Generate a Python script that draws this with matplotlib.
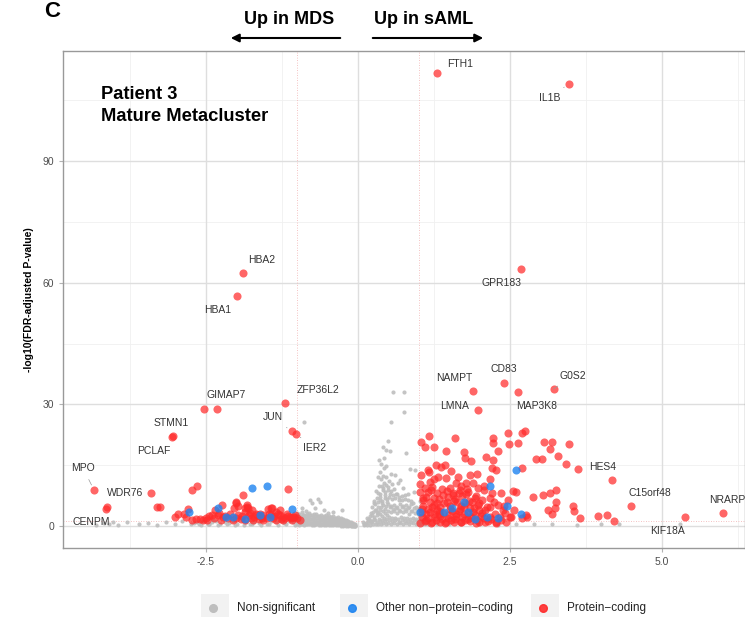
import numpy as np
import matplotlib.pyplot as plt
from matplotlib.patches import Rectangle, FancyArrowPatch
from matplotlib.lines import Line2D

plt.rcParams['font.family'] = ['Liberation Sans', 'DejaVu Sans']

# ---- labelled genes ----
lab_genes = ['FTH1', 'IL1B', 'HBA2', 'HBA1', 'GPR183', 'NAMPT', 'CD83', 'G0S2', 'MAP3K8', 'LMNA',
             'GIMAP7', 'ZFP36L2', 'JUN', 'IER2', 'STMN1', 'PCLAF', 'MPO', 'WDR76', 'CENPM',
             'HES4', 'C15orf48', 'NRARP', 'KIF18A']
lab_x = [1.30, 3.47, -1.89, -1.99, 2.68, 1.89, 2.40, 3.22, 2.63, 1.97,
         -2.32, -1.20, -1.09, -1.02, -3.04, -3.05, -4.34, -3.40, -4.03,
         4.19, 4.49, 6.00, 5.39]
lab_y = [111.7, 109.0, 62.4, 56.7, 63.4, 33.3, 35.3, 33.8, 33.0, 28.6,
         28.8, 30.3, 23.4, 22.7, 22.2, 22.0, 8.9, 8.1, 1.0,
         11.3, 4.9, 3.2, 2.2]
lab_type = ['pc'] * 18 + ['ns'] + ['pc'] * 4

# ---- protein-coding (red) ----
red_x = [-2.53, -4.13, -4.14, -3.31, -3.26, -2.73, -2.65, -2.80, -2.96, -3.01, -2.86, -2.82, -2.66, -2.60,
         -2.49, -2.40, -2.35, -2.23, -2.01, -1.89, -1.15, -1.97, -2.04, -1.43, -1.28, -2.30, -2.21, -2.13,
         -1.97, -1.86, -1.82, -1.74, -1.76, -1.68, -1.61, -1.48, -1.43, -1.35, -1.28, -1.20, -1.15, -1.10,
         -1.05, -1.00, -1.86, -1.73, -1.56, -1.35, -1.23, -2.48, -2.25, -2.05, -1.92, -1.62, -1.50, -0.95,
         -1.08, -1.40, -2.72, -2.55, -1.83, -1.81, -1.86, -1.78, -1.66, -1.61, -1.56, -1.41, -1.32, -1.23,
         -1.12, -1.07, -2.00,
         -2.44, -2.36, -2.28, -2.18, -2.10, -2.00, -1.90, -1.79, -1.70, -1.58, -1.46, -1.38, -1.26, -1.17, -1.04,
         1.04, 1.17, 1.10, 1.25, 1.60, 1.45, 1.74, 1.76, 1.86, 2.11, 2.22, 2.22, 2.30, 2.22, 2.47, 2.70,
         2.75, 2.48, 2.63, 3.06, 3.19, 3.47, 3.17, 3.30, 2.93, 3.03, 3.42, 3.63, 2.70, 1.28, 1.37, 1.43,
         1.53, 1.15, 1.17, 2.20, 2.27, 1.84, 2.17, 1.02, 1.18, 1.32, 1.45, 1.61, 1.78, 1.89, 1.97, 2.07,
         2.20, 2.35, 2.55, 2.60, 2.47, 2.57, 2.39, 2.76, 2.52, 2.70, 2.89, 3.04, 3.17, 3.26, 3.26, 3.24,
         3.13, 3.19, 3.54, 3.55, 3.65, 3.95, 4.10, 4.21,
         1.02, 1.15, 1.30, 1.40, 1.56, 1.66, 1.78, 1.92, 2.05, 2.24, 2.40, 1.07, 1.18, 1.31, 1.46, 1.63,
         1.76, 1.88, 1.97, 2.12, 1.05, 1.18, 1.30, 1.40, 1.55, 1.68, 1.81, 1.92, 2.04, 2.17, 2.34, 2.50,
         1.05, 1.15, 1.27, 1.38, 1.48, 1.60, 1.71, 1.81, 1.96, 2.07, 2.78, 1.10, 1.22, 1.35, 1.45, 1.58,
         1.70, 1.85, 2.00, 2.15, 2.28, 1.12, 1.25, 1.33, 1.50, 1.62, 1.75, 1.90, 2.25, 1.08, 1.22, 1.36,
         1.52, 1.70, 1.84, 2.00, 1.12, 1.25, 1.48, 1.60, 1.72, 1.10, 1.22, 1.38, 1.52, 1.68, 1.80, 1.25,
         1.65, 1.04, 1.96,
         1.03, 1.13, 1.21, 1.29, 1.36, 1.44, 1.53, 1.61, 1.69, 1.77, 1.86, 1.94, 2.02, 2.10, 2.19, 2.27,
         2.36, 2.44, 1.06, 1.16, 1.26, 1.34, 1.42, 1.51, 1.58, 1.66, 1.74, 1.83, 1.91, 2.00, 2.09, 2.18,
         2.30, 2.42, 1.08, 1.20, 1.34, 1.46, 1.57, 1.69, 1.82, 1.95, 2.08, 2.18]
red_y = [28.8, 4.7, 4.2, 4.7, 4.7, 8.9, 9.9, 4.2, 3.0, 2.2, 2.9, 2.2, 1.8, 1.8,
         2.1, 2.7, 3.9, 5.2, 5.9, 7.6, 9.1, 4.9, 4.4, 4.4, 3.9, 2.7, 2.2, 2.0,
         2.7, 4.4, 5.2, 3.9, 2.0, 3.0, 2.5, 4.2, 2.7, 3.4, 2.7, 2.0, 2.5, 2.0,
         2.2, 2.0, 1.5, 1.5, 1.5, 1.5, 1.5, 1.5, 1.5, 1.6, 1.8, 1.8, 2.0, 1.6,
         1.4, 2.0, 1.6, 1.5, 4.7, 4.4, 3.5, 3.2, 2.7, 3.0, 2.7, 4.4, 3.0, 2.2,
         2.2, 2.2, 5.7,
         2.6, 1.9, 3.2, 2.6, 3.0, 2.1, 2.5, 2.7, 2.2, 2.1, 2.9, 2.4, 1.8, 2.9, 2.7,
         20.8, 22.2, 19.5, 19.5, 21.7, 18.5, 18.2, 16.8, 16.0, 17.0, 21.7, 20.5, 18.5, 16.3, 22.9, 22.9,
         23.4, 20.2, 20.5, 20.7, 20.7, 20.2, 19.0, 17.3, 16.5, 16.5, 15.3, 14.1, 14.3, 15.0, 14.5, 15.0,
         13.6, 13.8, 13.3, 14.3, 13.8, 12.6, 11.6, 10.4, 10.8, 12.1, 11.8, 10.6, 10.6, 10.6, 9.4, 9.9,
         8.1, 8.1, 8.6, 8.4, 6.4, 3.9, 3.9, 2.7, 2.2, 2.0, 7.2, 7.6, 8.1, 8.9, 5.9, 4.4,
         3.9, 3.0, 4.9, 3.7, 2.0, 2.5, 2.7, 1.2,
         8.4, 8.4, 8.1, 7.6, 8.1, 8.1, 7.9, 6.9, 6.4, 5.9, 4.9, 6.4, 5.9, 5.7, 5.9, 5.9,
         5.7, 5.9, 5.2, 4.7, 4.2, 3.5, 3.9, 3.2, 3.7, 4.2, 3.2, 2.7, 3.2, 2.2, 2.2, 2.2,
         2.2, 2.0, 2.2, 1.7, 2.0, 1.7, 2.2, 1.7, 1.5, 2.0, 2.2, 1.2, 1.0, 1.1, 0.9, 1.1,
         1.0, 1.2, 1.0, 1.3, 1.1, 3.0, 2.9, 3.1, 2.8, 3.0, 2.9, 3.4, 3.0, 5.0, 4.8, 4.6,
         4.9, 5.0, 4.5, 4.0, 7.2, 7.0, 7.1, 6.8, 7.3, 9.3, 9.6, 9.2, 9.5, 9.0, 9.1, 11.5,
         12.0, 12.5, 12.9,
         0.8, 1.6, 0.7, 1.4, 2.5, 0.8, 1.5, 2.4, 0.9, 1.6, 2.3, 0.8, 2.6, 1.0, 1.8, 0.7,
         1.5, 0.9, 3.4, 4.1, 5.3, 3.8, 5.6, 4.2, 6.3, 3.6, 4.8, 6.1, 4.4, 5.8, 3.9, 4.6,
         5.3, 3.3, 6.9, 8.8, 6.6, 8.6, 7.6, 9.9, 8.4, 7.4, 8.9, 6.9]

# ---- other non-protein-coding (blue) ----
blue_x = [-2.78, -2.30, -2.17, -2.06, -1.74, -1.50, -1.09, -1.61, -1.45, -1.86,
          2.61, 2.17, 1.74, 1.55, 1.41, 1.82, 2.12, 2.31, 2.45, 2.68, 1.02, 1.92]
blue_y = [3.5, 4.4, 2.2, 2.2, 9.4, 9.9, 4.2, 2.7, 2.2, 1.7,
          13.8, 9.9, 5.9, 4.4, 3.5, 3.5, 2.2, 2.0, 4.9, 3.0, 3.5, 1.7]

# ---- non-significant (grey) ----
gray_left_x = [-4.30, -4.10, -3.95, -3.80, -3.60, -3.45, -3.30, -3.15, -3.00, -2.90, -2.75, -2.65,
               -2.55, -2.45, -2.38, -2.70, -2.62, -2.47, -2.40, -2.33, -2.26, -2.19, -2.12, -2.05,
               -1.98, -1.91, -1.84, -1.77, -1.70, -1.63, -1.56, -1.49, -1.42, -1.35, -1.28, -1.21,
               -1.14, -1.07, -2.58, -2.44, -2.30, -2.16, -2.02, -1.88, -1.74, -1.60, -1.46, -1.32,
               -1.18, -1.04]
gray_left_y = [0.3, 0.6, 0.2, 0.9, 0.4, 0.7, 0.3, 1.0, 0.5, 1.2, 0.4, 0.9,
               1.3, 0.6, 1.6, 0.8, 0.5, 0.6, 0.9, 1.3, 0.5, 1.0, 0.7, 1.2,
               0.6, 1.4, 0.9, 0.5, 1.1, 0.8, 1.5, 0.6, 1.2, 0.9, 1.6, 0.7,
               1.3, 1.0, 0.3, 0.4, 0.2, 0.4, 0.3, 0.3, 0.4, 0.2, 0.4, 0.3,
               0.4, 0.3]

gray_band_x = [-1.00, -0.96, -0.92, -0.88, -0.84, -0.80, -0.76, -0.72, -0.68, -0.64, -0.60, -0.56, -0.52,
               -0.48, -0.44, -0.40, -0.36, -0.32, -0.28, -0.24, -0.20, -0.16, -0.12, -0.08, -0.04] * 4
gray_band_y = [3.2, 2.9, 3.4, 2.8, 3.1, 3.3, 2.7, 3.0, 2.9, 2.6, 2.8, 2.5, 2.7, 2.4, 2.3, 2.5, 2.1, 2.2, 1.9, 1.7, 1.6, 1.2, 0.9, 0.6, 0.4,
               2.2, 2.0, 2.3, 1.9, 2.1, 2.2, 1.8, 2.0, 2.1, 1.9, 1.8, 1.7, 1.9, 1.6, 1.7, 1.5, 1.6, 1.4, 1.3, 1.2, 1.0, 0.8, 0.6, 0.4, 0.2,
               1.2, 1.0, 1.3, 0.9, 1.1, 1.2, 0.8, 1.0, 1.1, 0.9, 1.0, 0.8, 0.9, 0.7, 0.8, 0.7, 0.8, 0.6, 0.6, 0.5, 0.4, 0.3, 0.3, 0.2, 0.1,
               0.4, 0.3, 0.5, 0.3, 0.4, 0.4, 0.2, 0.3, 0.4, 0.3, 0.3, 0.2, 0.3, 0.2, 0.3, 0.2, 0.2, 0.2, 0.1, 0.1, 0.1, 0.1, 0.1, 0.05, 0.05]

gray_band2_x = [-0.98, -0.94, -0.90, -0.86, -0.82, -0.78, -0.74, -0.70, -0.66, -0.62, -0.58, -0.54,
                -0.50, -0.46, -0.42, -0.38, -0.34, -0.30, -0.26, -0.22, -0.18, -0.14, -0.10, -0.06] * 3
gray_band2_y = [2.7, 2.5, 2.8, 2.4, 2.6, 2.7, 2.3, 2.5, 2.4, 2.2, 2.3, 2.1, 2.3, 2.0, 2.0, 2.0, 1.8, 1.8, 1.6, 1.4, 1.3, 1.0, 0.8, 0.5,
                1.7, 1.5, 1.8, 1.4, 1.6, 1.7, 1.3, 1.5, 1.6, 1.4, 1.4, 1.2, 1.4, 1.1, 1.2, 1.1, 1.2, 1.0, 0.9, 0.8, 0.7, 0.5, 0.4, 0.3,
                0.8, 0.6, 0.9, 0.6, 0.7, 0.8, 0.5, 0.6, 0.7, 0.6, 0.6, 0.5, 0.6, 0.4, 0.5, 0.4, 0.5, 0.4, 0.3, 0.3, 0.2, 0.2, 0.1, 0.1]

gray_cloud_x = [0.10, 0.11, 0.09,
                0.15, 0.14, 0.16, 0.15,
                0.20, 0.21, 0.19, 0.20, 0.22,
                0.25, 0.24, 0.26, 0.25, 0.24, 0.26,
                0.30, 0.29, 0.31, 0.30, 0.28, 0.31, 0.30,
                0.34, 0.35, 0.33, 0.34, 0.36, 0.33, 0.35, 0.34,
                0.38, 0.39, 0.37, 0.38, 0.40, 0.37, 0.39, 0.38, 0.37, 0.38,
                0.42, 0.43, 0.41, 0.42, 0.44, 0.41, 0.43, 0.42, 0.43,
                0.46, 0.47, 0.45, 0.46, 0.48, 0.45, 0.47, 0.46, 0.47,
                0.50, 0.51, 0.49, 0.50, 0.52, 0.49, 0.51,
                0.55, 0.56, 0.54, 0.55, 0.57, 0.54, 0.56, 0.55,
                0.60, 0.61, 0.59, 0.60, 0.62, 0.59,
                0.65, 0.66, 0.64, 0.65, 0.67, 0.64, 0.66,
                0.70, 0.71, 0.69, 0.70, 0.72,
                0.75, 0.76, 0.74, 0.75, 0.77, 0.74,
                0.80, 0.81, 0.79, 0.80, 0.82,
                0.85, 0.86, 0.84, 0.85, 0.87,
                0.90, 0.91, 0.89, 0.90, 0.92,
                0.95, 0.96, 0.94, 0.95,
                1.00, 1.01, 0.99, 1.00, 1.02,
                1.05, 1.06, 1.04, 1.10, 1.11]
gray_cloud_y = [0.2, 0.6, 1.0,
                0.3, 0.8, 1.4, 2.0,
                0.3, 0.9, 1.6, 2.4, 3.2,
                0.4, 1.2, 2.2, 3.4, 4.6, 5.8,
                0.5, 1.5, 2.7, 4.0, 5.5, 7.0, 8.6,
                0.6, 1.8, 3.2, 4.8, 6.4, 8.2, 10.0, 12.0,
                0.5, 1.6, 3.0, 4.6, 6.2, 8.0, 9.8, 11.6, 13.4, 15.2,
                0.7, 2.0, 3.6, 5.2, 7.0, 8.8, 10.6, 12.4, 14.2,
                0.6, 1.8, 3.3, 5.0, 6.6, 8.4, 10.2, 12.0, 14.8,
                0.8, 2.2, 3.8, 5.4, 7.2, 9.0, 11.0,
                0.6, 1.9, 3.4, 5.0, 6.8, 8.6, 10.4, 12.8,
                0.7, 2.1, 3.6, 5.2, 7.0, 9.2,
                0.5, 1.8, 3.2, 4.8, 6.4, 8.0, 10.6,
                0.8, 2.2, 3.8, 5.5, 7.4,
                0.6, 1.9, 3.4, 5.0, 6.8, 9.4,
                0.7, 2.0, 3.6, 5.3, 7.8,
                0.5, 1.7, 3.1, 4.6, 6.2,
                0.7, 2.1, 3.7, 5.6, 8.4,
                0.6, 1.8, 3.2, 4.8,
                0.5, 1.6, 3.0, 4.5, 6.3,
                0.4, 1.4, 2.6, 0.5, 1.5]

gray_cloud2_x = [0.12, 0.17, 0.18, 0.22, 0.23, 0.27, 0.28, 0.27, 0.32, 0.32, 0.33, 0.36, 0.36, 0.37,
                 0.40, 0.40, 0.41, 0.44, 0.44, 0.45, 0.48, 0.48, 0.49, 0.52, 0.53, 0.53, 0.57, 0.58,
                 0.58, 0.62, 0.63, 0.63, 0.67, 0.68, 0.68, 0.72, 0.73, 0.73, 0.77, 0.78, 0.78, 0.82,
                 0.83, 0.83, 0.87, 0.88, 0.88, 0.92, 0.93, 0.97, 0.98, 1.03, 1.03, 1.08, 1.13]
gray_cloud2_y = [0.5, 1.1, 1.7, 1.3, 2.7, 1.7, 3.9, 6.3, 1.0, 3.4, 6.0, 1.2, 4.0, 7.1,
                 2.6, 5.8, 9.3, 1.3, 4.3, 7.7, 2.7, 6.0, 9.6, 1.5, 4.6, 8.0, 1.2, 4.2,
                 7.6, 1.4, 4.4, 8.0, 1.1, 3.9, 7.2, 1.5, 4.6, 6.4, 1.2, 4.2, 7.6, 1.3,
                 4.5, 6.5, 1.1, 3.8, 5.4, 1.4, 4.4, 1.2, 3.9, 1.0, 2.2, 0.9, 1.0]

gray_out_x = [-0.92, -0.79, -0.76, -0.66, -0.63, -0.49, -0.26, -0.89, -0.55, -0.40, -0.70, -0.85,
              0.58, 0.76, 0.76, 0.54, 0.49, 0.41, 0.46, 0.53, 0.35, 0.43, 0.79, 0.86, 0.94, 0.61, 0.69,
              1.15, 1.30, 1.50, 1.70, 2.00, 2.30, 2.60, 2.90, 3.20, 3.60, 4.00, 4.30, 5.30, -4.18]
gray_out_y = [4.4, 6.4, 5.7, 6.6, 5.9, 3.2, 3.9, 25.6, 4.0, 3.5, 4.5, 3.8,
              33.0, 33.0, 28.1, 25.6, 21.0, 19.5, 18.7, 18.5, 16.3, 16.8, 18.0, 14.1, 13.8, 12.6, 11.3,
              0.6, 0.4, 0.5, 0.4, 0.5, 0.3, 0.6, 0.4, 0.5, 0.3, 0.5, 0.4, 0.6, 0.8]

gray_x = gray_left_x + gray_band_x + gray_band2_x + gray_cloud_x + gray_cloud2_x + gray_out_x
gray_y = gray_left_y + gray_band_y + gray_band2_y + gray_cloud_y + gray_cloud2_y + gray_out_y

W, H = 745, 617
fig = plt.figure(figsize=(W / 100, H / 100), dpi=100)
ax = fig.add_axes([63 / W, 1 - 548 / H, (W - 63) / W, (548 - 51) / H])

# grid
for v in [-3.75, -1.25, 1.25, 3.75, 6.25]:
    ax.axvline(v, color='#F0F0F0', lw=0.6, zorder=0)
for v in [15, 45, 75, 105]:
    ax.axhline(v, color='#F0F0F0', lw=0.6, zorder=0)
for v in [-2.5, 0, 2.5, 5.0]:
    ax.axvline(v, color='#DEDEDE', lw=1.0, zorder=0)
for v in [0, 30, 60, 90]:
    ax.axhline(v, color='#DEDEDE', lw=1.0, zorder=0)

# thresholds
for v in [-1, 1]:
    ax.axvline(v, color='#F2AFAF', lw=0.6, ls=(0, (1, 2)), zorder=0.5)
ax.axhline(-np.log10(0.05), color='#F2AFAF', lw=0.6, ls=(0, (1, 2)), zorder=0.5)

red_c = '#FF2B2B'
blue_c = '#1E84F0'
gray_c = '#BEBEBE'

ax.scatter(gray_x, gray_y, s=9, color=gray_c, alpha=0.9, lw=0, zorder=1)
lx_ns = [x for x, t in zip(lab_x, lab_type) if t == 'ns']
ly_ns = [y for y, t in zip(lab_y, lab_type) if t == 'ns']
ax.scatter(lx_ns, ly_ns, s=9, color=gray_c, alpha=0.9, lw=0, zorder=1)
ax.scatter(red_x, red_y, s=34, color=red_c, alpha=0.72, lw=0, zorder=2)
lx_pc = [x for x, t in zip(lab_x, lab_type) if t == 'pc']
ly_pc = [y for y, t in zip(lab_y, lab_type) if t == 'pc']
ax.scatter(lx_pc, ly_pc, s=34, color=red_c, alpha=0.72, lw=0, zorder=2)
ax.scatter(blue_x, blue_y, s=34, color=blue_c, alpha=0.8, lw=0, zorder=3)

# label offsets in pixels (dx, dy) and whether to draw a segment
offsets = {
    'FTH1': (23, 9, False), 'IL1B': (-19, -14, True), 'HBA2': (19, 13, False), 'HBA1': (-19, -14, False),
    'GPR183': (-19, -14, False), 'NAMPT': (-18, 13, False), 'CD83': (0, 14, False), 'G0S2': (19, 13, True),
    'MAP3K8': (19, -14, False), 'LMNA': (-23, 4, False), 'GIMAP7': (9, 14, False), 'ZFP36L2': (33, 13, False),
    'JUN': (-19, 14, True), 'IER2': (19, -14, True), 'STMN1': (-2, 13, False), 'PCLAF': (-19, -14, False),
    'MPO': (-11, 22, True), 'WDR76': (-26, 0, False), 'CENPM': (-22, 0, False), 'HES4': (-10, 13, False),
    'C15orf48': (19, 13, False), 'NRARP': (5, 13, False), 'KIF18A': (-18, -14, False),
}
for g, x, y in zip(lab_genes, lab_x, lab_y):
    dx, dy, seg = offsets[g]
    props = dict(arrowstyle='-', color='#999999', lw=0.5, shrinkA=3, shrinkB=4) if seg else None
    ax.annotate(g, (x, y), xytext=(dx, dy), textcoords='offset pixels', ha='center', va='center',
                fontsize=7.5, color='#333333', arrowprops=props, zorder=4, annotation_clip=False)

ax.set_xlim(-4.85, 6.37)
ax.set_ylim(-5.4, 117.1)
ax.set_xticks([-2.5, 0, 2.5, 5.0])
ax.set_xticklabels(['-2.5', '0.0', '2.5', '5.0'])
ax.set_yticks([0, 30, 60, 90])
ax.tick_params(colors='#B3B3B3', labelcolor='#4D4D4D', labelsize=7.5, length=3, width=0.8)
for s in ax.spines.values():
    s.set_color('#999999')
    s.set_linewidth(1.0)
ax.set_ylabel('-log10(FDR-adjusted P-value)', fontsize=7.5, fontweight='bold', labelpad=6)

ax.text(0.055, 0.93, 'Patient 3\nMature Metacluster', transform=ax.transAxes, fontsize=13.2,
        fontweight='bold', va='top', ha='left', linespacing=1.4)

# header
fig.text(52 / W, 1 - 1 / H, 'C', fontsize=16, fontweight='bold', ha='center', va='top')
fig.text(289 / W, 1 - 20 / H, 'Up in MDS', fontsize=13, fontweight='bold', ha='center', va='center')
fig.text(424 / W, 1 - 20 / H, 'Up in sAML', fontsize=13, fontweight='bold', ha='center', va='center')
fig.add_artist(FancyArrowPatch((343 / W, 1 - 38 / H), (228 / W, 1 - 38 / H), transform=fig.transFigure,
                               arrowstyle='-|>', mutation_scale=12, lw=1.5, color='black'))
fig.add_artist(FancyArrowPatch((370 / W, 1 - 38 / H), (486 / W, 1 - 38 / H), transform=fig.transFigure,
                               arrowstyle='-|>', mutation_scale=12, lw=1.5, color='black'))

# legend
leg_labels = ['Non-significant', 'Other non\u2212protein\u2212coding', 'Protein\u2212coding']
leg_colors = [gray_c, blue_c, red_c]
leg_box_x = [201, 340, 531]
for bx, lab, c in zip(leg_box_x, leg_labels, leg_colors):
    fig.add_artist(Rectangle((bx / W, -0.01), 28 / W, (617 - 594) / H + 0.01, transform=fig.transFigure,
                             facecolor='#F2F2F2', edgecolor='none'))
    fig.add_artist(Line2D([(bx + 12) / W], [1 - 608 / H], marker='o', markersize=5.5, color=c,
                          alpha=0.9 if c != gray_c else 1, lw=0, transform=fig.transFigure))
    fig.text((bx + 36) / W, 1 - 608 / H, lab, fontsize=8.5, color='#222222', ha='left', va='center')

fig.savefig('out.png', dpi=100)
